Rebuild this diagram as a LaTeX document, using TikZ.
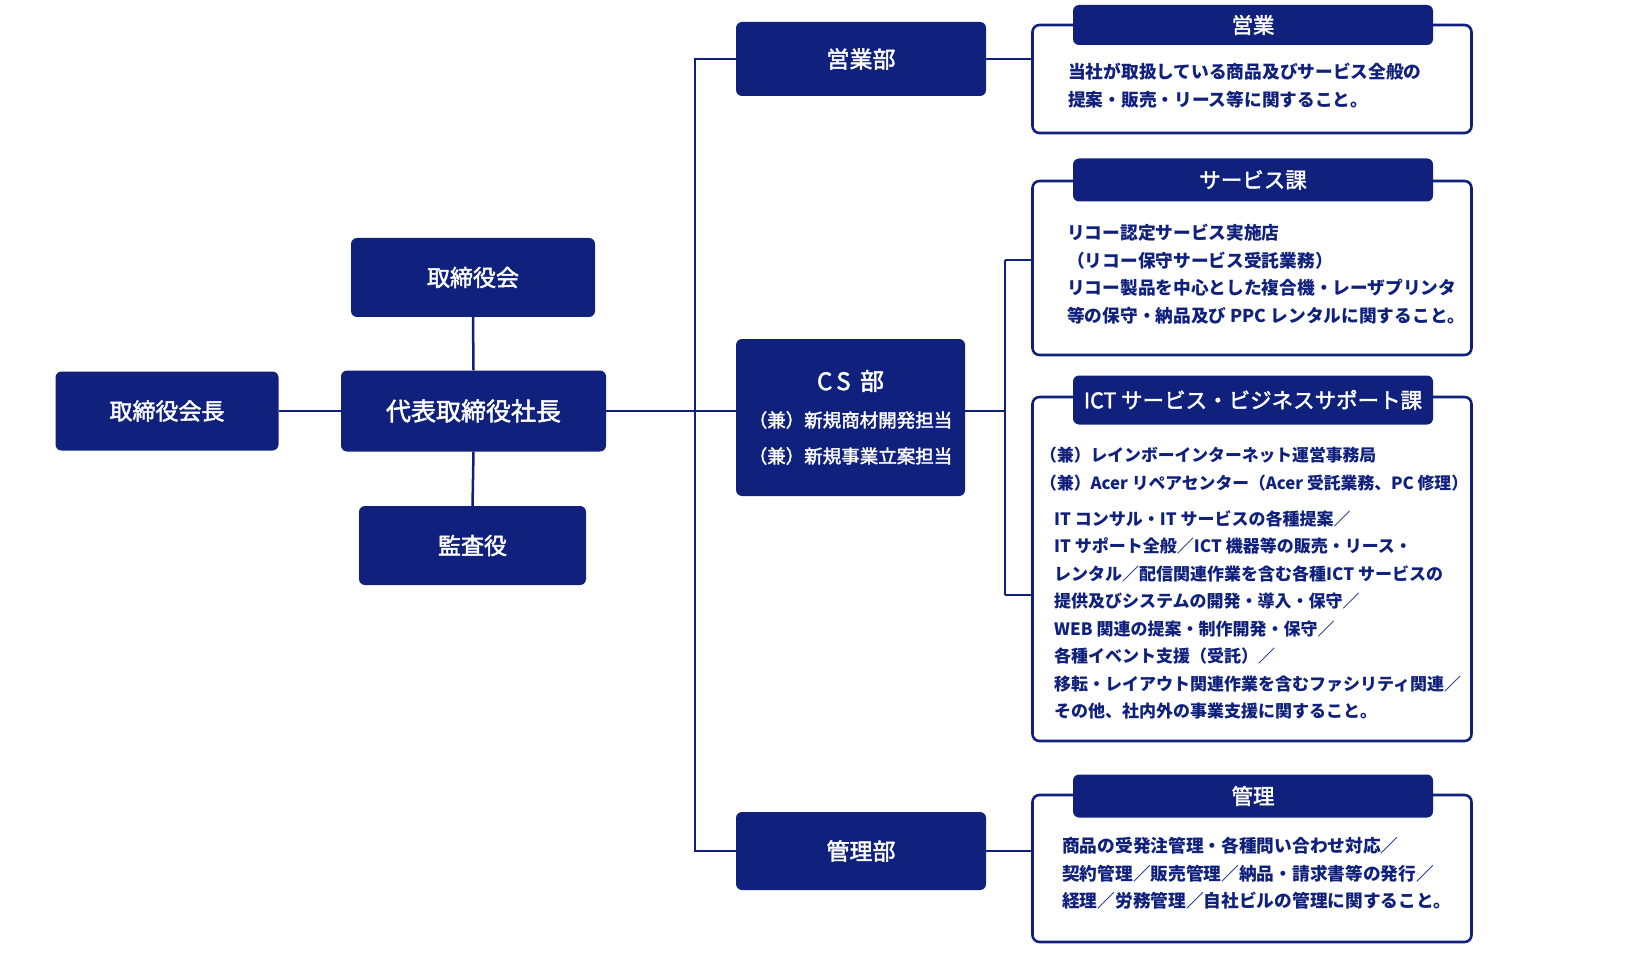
\documentclass[tikz,border=0pt]{standalone}
\usepackage{fontspec}
\setmainfont{Noto Sans CJK JP}
\newfontfamily\medfont{Noto Sans CJK JP}[FakeBold=2]
\definecolor{navy}{RGB}{15,33,125}
\begin{document}
\begin{tikzpicture}[x=1pt,y=-1pt,
  fbox/.style={fill=navy,rounded corners=6pt,text=white,inner sep=0pt,font=\medfont\fontsize{23}{28}\selectfont},
  obox/.style={draw=navy,line width=2.6pt,rounded corners=7pt,fill=white,inner sep=0pt},
  tab/.style={fill=navy,rounded corners=6pt,text=white,inner sep=0pt,minimum width=360pt,font=\medfont\fontsize{21.5}{26}\selectfont},
  body/.style={text=navy,inner sep=0pt,align=left,font=\bfseries\fontsize{17.7}{27.5}\selectfont},
  conn/.style={draw=navy,line width=2.5pt}]
\useasboundingbox (0,0) rectangle (1629,965);
% left nodes
\node[fbox,minimum width=223pt,minimum height=79pt] (chair) at (167,411) {取締役会長};
\node[fbox,minimum width=265pt,minimum height=81pt,font=\medfont\fontsize{25}{30}\selectfont] (pres) at (473.5,411) {代表取締役社長};
\node[fbox,minimum width=244pt,minimum height=79pt] (board) at (473,277.5) {取締役会};
\node[fbox,minimum width=227pt,minimum height=79pt] (audit) at (472.5,545.5) {監査役};
% departments
\node[fbox,minimum width=250pt,minimum height=74pt] (eig) at (861,59) {営業部};
\node[fbox,minimum width=229pt,minimum height=157pt] (cs) at (850.5,417.5) {};
\node[fbox,anchor=center,font=\medfont\fontsize{24}{28}\selectfont] (cst) at (850.5,381) {C\,S\, 部};
\node[fbox,anchor=center,font=\medfont\fontsize{18.5}{22}\selectfont] (cs1) at (850.5,420) {（兼）新規商材開発担当};
\node[fbox,anchor=center,font=\medfont\fontsize{18.5}{22}\selectfont] (cs2) at (850.5,456) {（兼）新規事業立案担当};
\node[fbox,minimum width=250pt,minimum height=78pt] (kan) at (861,851) {管理部};
% outline boxes
\node[obox,minimum width=439pt,minimum height=108pt] (b1) at (1252,79) {};
\node[obox,minimum width=439pt,minimum height=174pt] (b2) at (1252,268) {};
\node[obox,minimum width=439pt,minimum height=344pt] (b3) at (1252,569) {};
\node[obox,minimum width=439pt,minimum height=147pt] (b4) at (1252,868.5) {};
\node[tab,minimum height=40pt] (t1) at (1253,25) {営業};
\node[tab,minimum height=43pt] (t2) at (1253,180) {サービス課};
\node[tab,minimum height=49pt] (t3) at (1253,400) {ICT サービス・ビジネスサポート課};
\node[tab,minimum height=43pt] (t4) at (1253,796) {管理};
% body texts
\node[body,anchor=north west] (x1) at (1068,63) {当社が取扱している商品及びサービス全般の\\提案・販売・リース等に関すること。};
\node[body,anchor=north west] (x2) at (1067,224) {リコー認定サービス実施店\\（リコー保守サービス受託業務）\\リコー製品を中心とした複合機・レーザプリンタ\\等の保守・納品及び PPC レンタルに関すること。};
\node[body,anchor=north west,font=\bfseries\fontsize{16.8}{27.5}\selectfont] (x3a) at (1040,447) {（兼）レインボーインターネット運営事務局\\（兼）Acer リペアセンター（Acer 受託業務、PC 修理）};
\node[body,anchor=north west,font=\bfseries\fontsize{17}{27.5}\selectfont] (x3b) at (1054,510) {IT コンサル・IT サービスの各種提案／\\IT サポート全般／ICT 機器等の販売・リース・\\レンタル／配信関連作業を含む各種ICT サービスの\\提供及びシステムの開発・導入・保守／\\WEB 関連の提案・制作開発・保守／\\各種イベント支援（受託）／\\移転・レイアウト関連作業を含むファシリティ関連／\\その他、社内外の事業支援に関すること。};
\node[body,anchor=north west] (x4) at (1062,837) {商品の受発注管理・各種問い合わせ対応／\\契約管理／販売管理／納品・請求書等の発行／\\経理／労務管理／自社ビルの管理に関すること。};
% connectors
\coordinate (tA) at (695,59);
\coordinate (tB) at (695,851);
\coordinate (bA) at (1005,260);
\coordinate (bB) at (1005,595);
\path[conn] (chair.east) -- (pres.west);
\path[conn] (board.south) -- (pres.north);
\path[conn] (pres.south) -- (audit.north);
\path[conn] (pres.east) -- (pres.east -| cs.west);
\path[conn] (eig.west) -- (tA) -- (tB) -- (kan.west);
\path[conn] (pres.east -| cs.east) -- (pres.east -| bA);
\path[conn] (bA) -- (bB);
\path[conn] (bA) -- (bA -| b2.west);
\path[conn] (bB) -- (bB -| b3.west);
\path[conn] (eig.east) -- (eig.east -| b1.west);
\path[conn] (kan.east) -- (kan.east -| b4.west);
\end{tikzpicture}
\end{document}
